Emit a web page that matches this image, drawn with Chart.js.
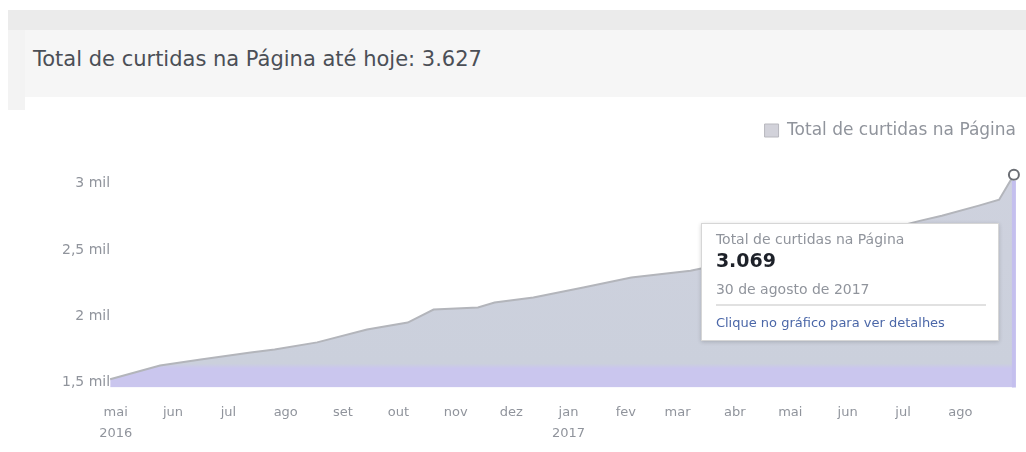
<!DOCTYPE html>
<html lang="pt-BR">
<head>
<meta charset="utf-8">
<script src="https://cdn.jsdelivr.net/npm/chart.js@4.4.1/dist/chart.umd.min.js"></script>
<style>
  html, body { margin: 0; padding: 0; background: #fff; }
  body { width: 1026px; height: 452px; position: relative; overflow: hidden; font-family: "DejaVu Sans", sans-serif; }
  #topbar { position: absolute; left: 8px; top: 10px; width: 1018px; height: 20px; background: #ebebeb; }
  #side { position: absolute; left: 8px; top: 30px; width: 17px; height: 80px; background: #f3f3f3; }
  #header { position: absolute; left: 25px; top: 30px; width: 1001px; height: 67px; background: #f6f6f6; }
  #header h1 { margin: 0; position: absolute; left: 8px; top: 16px; font-size: 21px; font-weight: normal; color: #4b4f56; line-height: 26px; white-space: nowrap; }
  #chartBox { position: absolute; left: 0; top: 100px; width: 1026px; height: 359px; }
  #tip { position: absolute; display: none; width: 298px; height: 118px; background: #fff; border: 1px solid #d6d6d6;
         box-shadow: 0 1px 4px rgba(0,0,0,.18); box-sizing: border-box; padding: 6px 12px 0 14px; color: #90949c; pointer-events: none; }
  #tip .t-label { font-size: 14px; line-height: 18px; white-space: nowrap; }
  #tip .t-value { font-size: 19px; font-weight: bold; color: #1d2129; line-height: 24px; }
  #tip .t-date { font-size: 14px; line-height: 18px; margin-top: 8px; }
  #tip .t-sep { border-top: 2px solid #e1e1e1; margin-top: 6px; }
  #tip .t-link { font-size: 13px; line-height: 18px; color: #4b67a8; margin-top: 8px; white-space: nowrap; }
</style>
</head>
<body>
<div id="topbar"></div>
<div id="side"></div>
<div id="header"><h1>Total de curtidas na Página até hoje: 3.627</h1></div>
<div id="chartBox">
  <canvas id="likesChart"></canvas>
  <div id="tip">
    <div class="t-label"></div>
    <div class="t-value"></div>
    <div class="t-date"></div>
    <div class="t-sep"></div>
    <div class="t-link">Clique no gráfico para ver detalhes</div>
  </div>
</div>
<script>
// Data
const seriesLabel = 'Total de curtidas na Página';
const pointDates = ['2016-04-28', '2016-05-25', '2016-06-16', '2016-07-13', '2016-07-26', '2016-08-18',
                    '2016-09-14', '2016-10-06', '2016-10-20', '2016-11-13', '2016-11-22', '2016-12-13',
                    '2017-01-09', '2017-02-04', '2017-03-08', '2017-04-10', '2017-05-15', '2017-06-15',
                    '2017-07-10', '2017-07-22', '2017-08-11', '2017-08-22', '2017-08-30'];
const totalLikes = [1523, 1628, 1673, 1726, 1749, 1802,
                    1900, 1952, 2050, 2066, 2103, 2141,
                    2216, 2292, 2344, 2440, 2540, 2630,
                    2720, 2759, 2835, 2880, 3069];
const monthTicks = ['2016-05-01', '2016-06-01', '2016-07-01', '2016-08-01', '2016-09-01', '2016-10-01',
                    '2016-11-01', '2016-12-01', '2017-01-01', '2017-02-01', '2017-03-01', '2017-04-01',
                    '2017-05-01', '2017-06-01', '2017-07-01', '2017-08-01'];
const yTicks = [1500, 2000, 2500, 3000];
const monthShort = ['jan', 'fev', 'mar', 'abr', 'mai', 'jun', 'jul', 'ago', 'set', 'out', 'nov', 'dez'];
const monthLong = ['janeiro', 'fevereiro', 'março', 'abril', 'maio', 'junho', 'julho', 'agosto',
                   'setembro', 'outubro', 'novembro', 'dezembro'];

// day helpers (no date adapter needed)
function dayNum(s) {
    const [y, m, d] = s.split('-').map(Number);
    return Date.UTC(y, m - 1, d) / 86400000;
}
const day0 = dayNum(pointDates[0]);
function dateOf(offset) {
    return new Date((day0 + offset) * 86400000);
}
function fmtNum(n) {
    return String(n).replace(/\B(?=(\d{3})+(?!\d))/g, '.');
}

const points = pointDates.map((d, i) => ({ x: dayNum(d) - day0, y: totalLikes[i] }));
const lastX = points[points.length - 1].x;

// vertical line under the hovered point
const hoverLine = {
    id: 'hoverLine',
    afterDatasetsDraw(chart) {
        const act = chart.getActiveElements();
        if (!act.length) return;
        const pt = act[0].element;
        const ctx = chart.ctx;
        ctx.save();
        ctx.strokeStyle = '#c4bfee';
        ctx.lineWidth = 4;
        ctx.beginPath();
        ctx.moveTo(pt.x, pt.y + 6);
        ctx.lineTo(pt.x, chart.chartArea.bottom);
        ctx.stroke();
        ctx.restore();
    }
};

// HTML tooltip like the page's own
function externalTip(context) {
    const { tooltip } = context;
    const el = document.getElementById('tip');
    if (tooltip.opacity === 0 || !tooltip.dataPoints || !tooltip.dataPoints.length) {
        el.style.display = 'none';
        return;
    }
    const dp = tooltip.dataPoints[0];
    const d = dateOf(dp.parsed.x);
    el.querySelector('.t-label').textContent = dp.dataset.label;
    el.querySelector('.t-value').textContent = fmtNum(dp.parsed.y);
    el.querySelector('.t-date').textContent =
        d.getUTCDate() + ' de ' + monthLong[d.getUTCMonth()] + ' de ' + d.getUTCFullYear();
    el.style.display = 'block';
    el.style.left = (tooltip.caretX - 314) + 'px';
    el.style.top = (tooltip.caretY + 48) + 'px';
}

const ctx = document.getElementById('likesChart').getContext('2d');
const chart = new Chart(ctx, {
    type: 'line',
    data: {
        datasets: [{
            label: seriesLabel,
            data: points,
            borderColor: '#b3b5bb',
            borderWidth: 2,
            fill: 'start',
            backgroundColor(c) {
                const area = c.chart.chartArea;
                if (!area) return '#cdd0dc';
                const g = c.chart.ctx.createLinearGradient(0, area.top, 0, area.bottom);
                g.addColorStop(0, '#cfd2de');
                g.addColorStop(0.9, '#cbd0dc');
                g.addColorStop(0.92, '#cac6ee');
                g.addColorStop(1, '#cac6ee');
                return g;
            },
            tension: 0,
            pointRadius: 0,
            pointHoverRadius: 5,
            pointHoverBorderWidth: 2,
            pointHoverBorderColor: '#6b6e74',
            pointHoverBackgroundColor: '#ffffff',
            clip: false
        }]
    },
    options: {
        responsive: true,
        maintainAspectRatio: false,
        animation: false,
        events: [],
        layout: { padding: { left: 62, top: 12, right: 0, bottom: 0 } },
        plugins: {
            legend: {
                position: 'top',
                align: 'end',
                labels: {
                    boxWidth: 14,
                    boxHeight: 13,
                    padding: 10,
                    color: '#90949c',
                    font: { family: 'DejaVu Sans', size: 17 },
                    generateLabels(ch) {
                        return ch.data.datasets.map((ds, i) => ({
                            text: ds.label,
                            fillStyle: '#d2d2da',
                            strokeStyle: '#b8b8be',
                            lineWidth: 1,
                            fontColor: '#90949c',
                            datasetIndex: i
                        }));
                    }
                }
            },
            tooltip: {
                enabled: false,
                external: externalTip,
                mode: 'nearest',
                intersect: false
            }
        },
        scales: {
            x: {
                type: 'linear',
                min: 0,
                max: lastX + 6,
                grid: { display: false, drawTicks: false },
                border: { display: false },
                afterBuildTicks(scale) {
                    scale.ticks = monthTicks.map(s => ({ value: dayNum(s) - day0 }));
                },
                ticks: {
                    autoSkip: false,
                    maxRotation: 0,
                    padding: 15,
                    color: '#90949c',
                    font: { family: 'DejaVu Sans', size: 13, lineHeight: 1.6 },
                    callback(value, index) {
                        const d = dateOf(value);
                        const m = monthShort[d.getUTCMonth()];
                        if (index === 0 || d.getUTCMonth() === 0) return [m, String(d.getUTCFullYear())];
                        return m;
                    }
                }
            },
            y: {
                min: 1462,
                max: 3263,
                grid: { display: false, drawTicks: false },
                border: { display: false },
                afterBuildTicks(scale) {
                    scale.ticks = yTicks.map(v => ({ value: v }));
                },
                ticks: {
                    padding: 0,
                    color: '#90949c',
                    font: { family: 'DejaVu Sans', size: 14 },
                    callback: v => String(v / 1000).replace('.', ',') + ' mil'
                }
            }
        }
    },
    plugins: [hoverLine]
});

// show the hover state on the last day, as in the screenshot
const lastIdx = totalLikes.length - 1;
chart.setActiveElements([{ datasetIndex: 0, index: lastIdx }]);
chart.tooltip.setActiveElements([{ datasetIndex: 0, index: lastIdx }], { x: 0, y: 0 });
chart.update();
</script>
</body>
</html>
